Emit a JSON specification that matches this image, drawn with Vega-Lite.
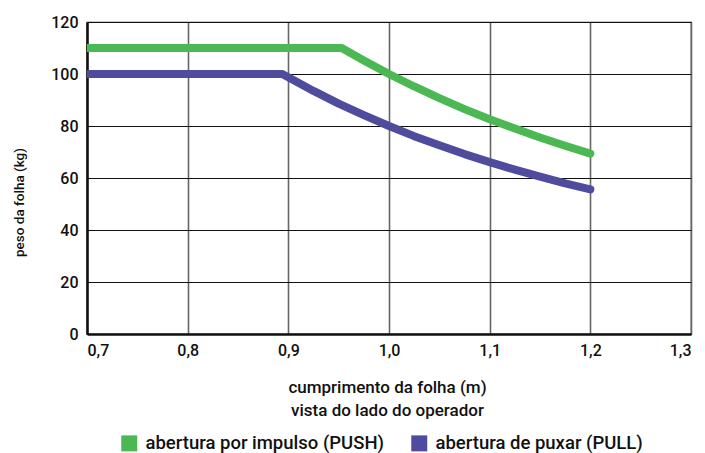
{
  "$schema": "https://vega.github.io/schema/vega-lite/v6.json",
  "width": 604,
  "height": 312,
  "autosize": "none",
  "padding": {"left": 87, "top": 22, "right": 14, "bottom": 119},
  "background": "white",
  "config": {
    "font": "Roboto",
    "view": {"stroke": "#222", "strokeWidth": 1.2},
    "axis": {"labelFont": "Roboto", "titleFont": "Roboto", "labelColor": "#111", "titleColor": "#111"}
  },
  "data": {
    "values": [
      {"serie": "abertura por impulso (PUSH)", "L": 0.7, "peso": 110},
      {"serie": "abertura por impulso (PUSH)", "L": 0.953, "peso": 110},
      {"serie": "abertura por impulso (PUSH)", "L": 0.975, "peso": 105.2},
      {"serie": "abertura por impulso (PUSH)", "L": 1.0, "peso": 100},
      {"serie": "abertura por impulso (PUSH)", "L": 1.025, "peso": 95.2},
      {"serie": "abertura por impulso (PUSH)", "L": 1.05, "peso": 90.7},
      {"serie": "abertura por impulso (PUSH)", "L": 1.075, "peso": 86.5},
      {"serie": "abertura por impulso (PUSH)", "L": 1.1, "peso": 82.6},
      {"serie": "abertura por impulso (PUSH)", "L": 1.125, "peso": 79.0},
      {"serie": "abertura por impulso (PUSH)", "L": 1.15, "peso": 75.6},
      {"serie": "abertura por impulso (PUSH)", "L": 1.175, "peso": 72.4},
      {"serie": "abertura por impulso (PUSH)", "L": 1.2, "peso": 69.4},
      {"serie": "abertura de puxar (PULL)", "L": 0.7, "peso": 100},
      {"serie": "abertura de puxar (PULL)", "L": 0.894, "peso": 100},
      {"serie": "abertura de puxar (PULL)", "L": 0.925, "peso": 93.5},
      {"serie": "abertura de puxar (PULL)", "L": 0.95, "peso": 88.6},
      {"serie": "abertura de puxar (PULL)", "L": 0.975, "peso": 84.2},
      {"serie": "abertura de puxar (PULL)", "L": 1.0, "peso": 80},
      {"serie": "abertura de puxar (PULL)", "L": 1.025, "peso": 76.1},
      {"serie": "abertura de puxar (PULL)", "L": 1.05, "peso": 72.6},
      {"serie": "abertura de puxar (PULL)", "L": 1.075, "peso": 69.2},
      {"serie": "abertura de puxar (PULL)", "L": 1.1, "peso": 66.1},
      {"serie": "abertura de puxar (PULL)", "L": 1.125, "peso": 63.2},
      {"serie": "abertura de puxar (PULL)", "L": 1.15, "peso": 60.5},
      {"serie": "abertura de puxar (PULL)", "L": 1.175, "peso": 57.9},
      {"serie": "abertura de puxar (PULL)", "L": 1.2, "peso": 55.6}
    ]
  },
  "mark": {"type": "line", "strokeWidth": 8, "strokeCap": "round", "strokeJoin": "round", "clip": true},
  "encoding": {
    "x": {
      "field": "L", "type": "quantitative",
      "scale": {"domain": [0.7, 1.3], "nice": false, "zero": false},
      "axis": {
        "values": [0.7, 0.8, 0.9, 1.0, 1.1, 1.2, 1.3],
        "labelExpr": "replace(format(datum.value, '.1f'), '.', ',')",
        "labelFontSize": 16, "labelFontWeight": 500, "labelPadding": 8,
        "ticks": false,
        "domainColor": "#111", "domainWidth": 2.5,
        "gridColor": "#666", "gridWidth": 1.6, "gridOpacity": 1,
        "title": ["cumprimento da folha (m)", "vista do lado do operador"],
        "titleFontSize": 17, "titleFontWeight": 500, "titleLineHeight": 23,
        "titleBaseline": "top", "titleY": 45, "titleX": 300
      }
    },
    "y": {
      "field": "peso", "type": "quantitative",
      "scale": {"domain": [0, 120], "nice": false},
      "axis": {
        "values": [0, 20, 40, 60, 80, 100, 120],
        "labelFontSize": 16, "labelFontWeight": 500, "labelPadding": 9,
        "ticks": false,
        "domainColor": "#111", "domainWidth": 2.5,
        "gridColor": "#111", "gridWidth": 1.1, "gridOpacity": 1,
        "title": "peso da folha (kg)",
        "titleFontSize": 13.5, "titleFontWeight": 500,
        "titleX": -68, "titleY": 180, "titleAlign": "center", "titleBaseline": "middle", "titleAngle": -90
      }
    },
    "color": {
      "field": "serie", "type": "nominal",
      "sort": ["abertura por impulso (PUSH)", "abertura de puxar (PULL)"],
      "scale": {"domain": ["abertura por impulso (PUSH)", "abertura de puxar (PULL)"], "range": ["#4cb853", "#4f4c9e"]},
      "legend": {
        "title": null,
        "orient": "none", "legendX": 33, "legendY": 412,
        "direction": "horizontal",
        "symbolType": "square", "symbolSize": 256, "symbolStrokeWidth": 0,
        "symbolOpacity": 1,
        "labelFontSize": 18.5, "labelFontWeight": 500, "labelColor": "#111", "labelFont": "Roboto",
        "labelLimit": 0,
        "labelOffset": 7, "columnPadding": 26,
        "encode": {"symbols": {"update": {"fill": {"scale": "color", "field": "value"}, "fillOpacity": {"value": 1}}}}
      }
    }
  }
}
